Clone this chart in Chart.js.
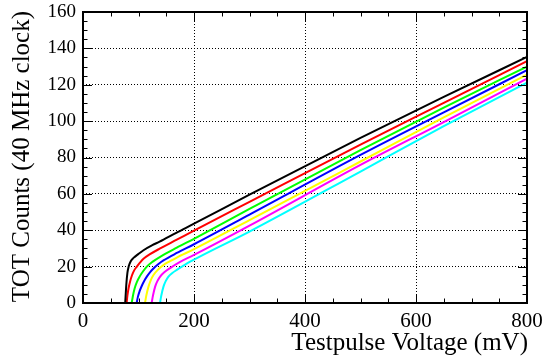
<!DOCTYPE html>
<html>
<head>
<meta charset="utf-8">
<script src="https://cdn.jsdelivr.net/npm/chart.js@4.4.1/dist/chart.umd.min.js"></script>
<style>
  html, body { margin: 0; padding: 0; background: #fff; }
  #wrap { width: 543px; height: 360px; }
</style>
</head>
<body>
<div id="wrap"><canvas id="totChart" width="543" height="360"></canvas></div>
<script>
// Curve data (testpulse voltage in mV, TOT counts)
const voltBlack   = [76, 77, 78, 80, 82.5, 86, 91, 100, 109, 125, 138, 168, 200, 300, 500, 650, 800];
const totBlack    = [0, 5, 10, 16.5, 20.3, 23, 24.8, 27, 29, 31.8, 33.7, 38.6, 43.6, 59.6, 90.8, 113.3, 135.3];
const voltRed     = [78.6, 80, 82, 85, 88, 92, 97, 103, 109, 120, 139, 169, 200, 300, 500, 650, 800];
const totRed      = [0, 4, 8, 12, 15, 17.8, 20, 22.3, 24.3, 26.7, 30, 34.8, 39.8, 55.6, 87.1, 110, 133];
const voltGreen   = [87.7, 90, 93, 97, 102, 108, 115, 125, 139, 169, 200, 300, 500, 650, 800];
const totGreen    = [0, 4, 8, 11.5, 14.5, 17.3, 20, 22.6, 25.4, 30.4, 35.3, 51.7, 84, 107.4, 130];
const voltBlue    = [96.7, 99, 102, 106, 110, 115, 121, 127, 136, 145, 169, 200, 300, 500, 650, 800];
const totBlue     = [0, 3.5, 6.5, 9.5, 12, 14.5, 17, 19, 21.4, 23.4, 27.5, 32.3, 48.6, 81.4, 104.8, 128];
const voltYellow  = [111.7, 114, 118, 122, 127, 135, 145, 157, 169, 200, 300, 500, 650, 800];
const totYellow   = [0, 4, 9, 12.5, 15.4, 18.3, 20.9, 23, 25, 29.6, 45.6, 77.8, 102, 125.6];
const voltMagenta = [123.7, 126, 130, 134, 139, 147, 157, 175, 200, 300, 500, 650, 800];
const totMagenta  = [0, 4, 9, 12, 14.5, 17, 19.2, 22.6, 26.4, 42.5, 75.9, 99.5, 123.4];
const voltCyan    = [138.7, 141, 145, 149, 154, 161, 169, 181, 193, 300, 500, 650, 800];
const totCyan     = [0, 4, 9, 12, 14.5, 16.5, 18.2, 20.5, 22.7, 39.3, 72.3, 97.2, 121.2];

const curveColors = ['#000000', '#ff0000', '#00ff00', '#0000ff', '#ffff00', '#ff00ff', '#00ffff'];
const xTicks = [0, 200, 400, 600, 800];
const yTicks = [0, 20, 40, 60, 80, 100, 120, 140, 160];

const xTitle = 'Testpulse Voltage (mV)';
const yTitle = 'TOT Counts (40 MHz clock)';

const SERIF = "'Liberation Serif', 'DejaVu Serif', serif";

function toPoints(xs, ys) {
    return xs.map((x, i) => ({ x: x, y: ys[i] }));
}

const curves = [
    toPoints(voltBlack, totBlack),
    toPoints(voltRed, totRed),
    toPoints(voltGreen, totGreen),
    toPoints(voltBlue, totBlue),
    toPoints(voltYellow, totYellow),
    toPoints(voltMagenta, totMagenta),
    toPoints(voltCyan, totCyan)
];

// ROOT-like frame with inward ticks on all four sides, plus axis titles
const rootFrame = {
    id: 'rootFrame',
    afterDatasetsDraw(chart) {
        const ctx = chart.ctx;
        const area = chart.chartArea;
        const xs = chart.scales.x;
        const ys = chart.scales.y;
        ctx.save();
        ctx.strokeStyle = '#000';
        ctx.lineWidth = 1;
        ctx.beginPath();
        for (let v = xTicks[0]; v <= xTicks[xTicks.length - 1]; v += 50) {
            const len = (v % 200 === 0) ? 9 : 4.5;
            const px = Math.round(xs.getPixelForValue(v)) + 0.5;
            ctx.moveTo(px, area.bottom);
            ctx.lineTo(px, area.bottom - len);
            ctx.moveTo(px, area.top);
            ctx.lineTo(px, area.top + len);
        }
        for (let v = yTicks[0]; v <= yTicks[yTicks.length - 1]; v += 5) {
            const len = (v % 20 === 0) ? 9 : 4.5;
            const py = Math.round(ys.getPixelForValue(v)) + 0.5;
            ctx.moveTo(area.left, py);
            ctx.lineTo(area.left + len, py);
            ctx.moveTo(area.right, py);
            ctx.lineTo(area.right - len, py);
        }
        ctx.stroke();
        ctx.lineWidth = 2;
        ctx.strokeRect(area.left, area.top, area.right - area.left, area.bottom - area.top);
        ctx.restore();
    },
    afterDraw(chart) {
        const ctx = chart.ctx;
        const area = chart.chartArea;
        ctx.save();
        ctx.fillStyle = '#000';
        ctx.font = '25px ' + SERIF;
        ctx.textAlign = 'right';
        ctx.textBaseline = 'alphabetic';
        ctx.fillText(xTitle, area.right + 1, 350);
        ctx.translate(29, area.top - 1);
        ctx.rotate(-Math.PI / 2);
        ctx.fillText(yTitle, 0, 0);
        ctx.restore();
    }
};

const datasets = curves.map((pts, i) => ({
    data: pts,
    borderColor: curveColors[i],
    borderWidth: 2,
    pointRadius: 0,
    fill: false,
    cubicInterpolationMode: 'monotone'
}));

new Chart(document.getElementById('totChart'), {
    type: 'line',
    data: { datasets: datasets },
    options: {
        responsive: false,
        animation: false,
        devicePixelRatio: 1,
        layout: { padding: { top: 12, right: 16, left: 0, bottom: 0 } },
        plugins: {
            legend: { display: false },
            tooltip: { enabled: false }
        },
        scales: {
            x: {
                type: 'linear',
                min: 0,
                max: 800,
                afterFit(scale) {
                    scale.height = 57;
                    scale.paddingLeft = 0;
                    scale.paddingRight = 0;
                },
                afterBuildTicks(scale) { scale.ticks = xTicks.map(v => ({ value: v })); },
                ticks: {
                    font: { family: SERIF, size: 21 },
                    color: '#000',
                    padding: 6,
                    maxRotation: 0
                },
                grid: {
                    color: '#000',
                    lineWidth: 1,
                    drawTicks: false
                },
                border: { display: false, dash: [1, 2] }
            },
            y: {
                type: 'linear',
                min: 0,
                max: 160,
                afterFit(scale) {
                    scale.width = 83;
                    scale.paddingTop = 0;
                    scale.paddingBottom = 0;
                },
                afterBuildTicks(scale) { scale.ticks = yTicks.map(v => ({ value: v })); },
                ticks: {
                    font: { family: SERIF, size: 19 },
                    color: '#000',
                    padding: 7
                },
                grid: {
                    color: '#000',
                    lineWidth: 1,
                    drawTicks: false
                },
                border: { display: false, dash: [1, 2] }
            }
        }
    },
    plugins: [rootFrame]
});
</script>
</body>
</html>
